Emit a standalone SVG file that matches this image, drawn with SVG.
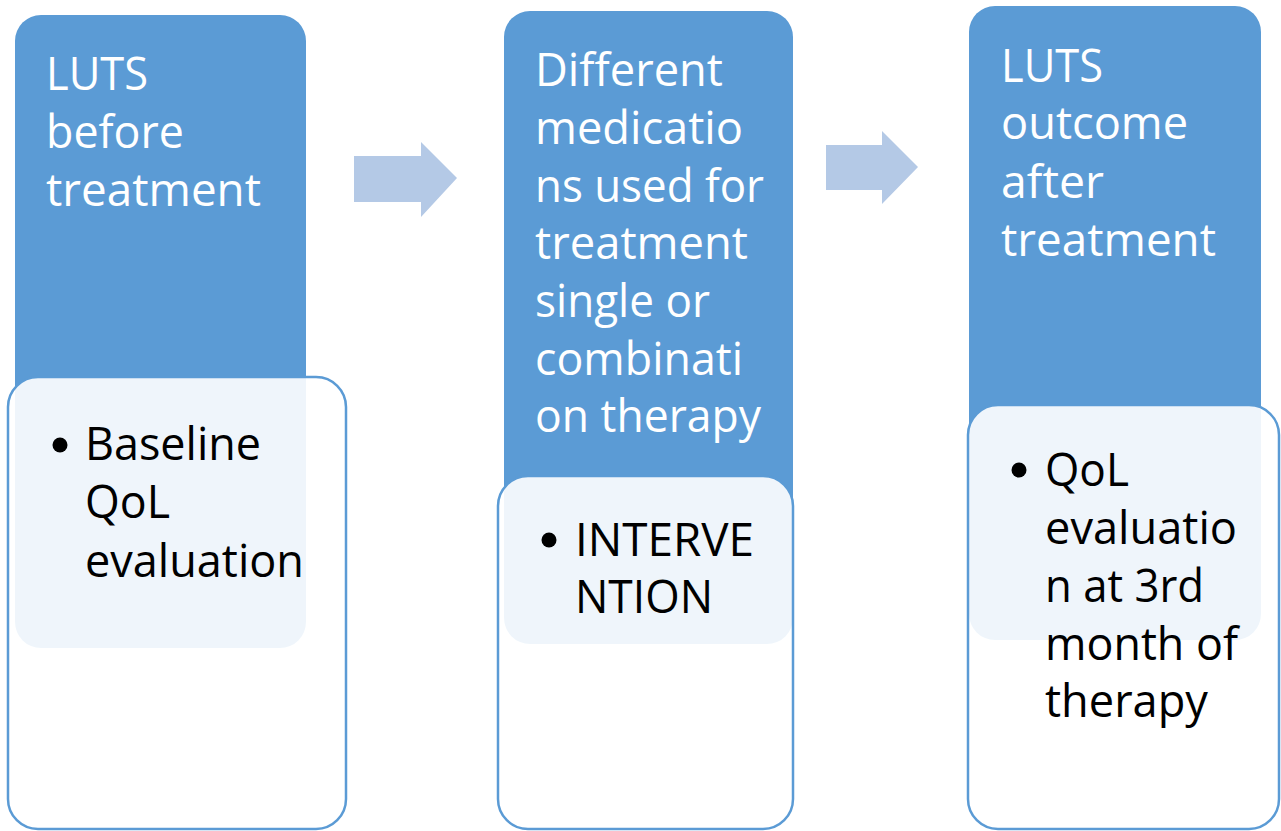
<svg xmlns="http://www.w3.org/2000/svg" width="1281" height="831" viewBox="0 0 1281 831">
<style>
.blue{fill:#5b9bd5}
.card{fill:#ffffff;fill-opacity:0.9;stroke:#5b9bd5;stroke-width:2.5}
.arrow{fill:#b4c9e6}
text{font-family:"Open Sans","Liberation Sans",sans-serif;font-size:45px}
.wt{fill:#ffffff}
.bt{fill:#000000}
.dot{fill:#000000}
</style>
<rect width="1281" height="831" fill="#ffffff"/>
<g id="node-before">
<rect class="blue" x="15" y="15" width="291" height="633" rx="26"/>
<text class="wt" x="46" y="90" textLength="102" lengthAdjust="spacingAndGlyphs">LUTS</text>
<text class="wt" x="46" y="148" textLength="138" lengthAdjust="spacingAndGlyphs">before</text>
<text class="wt" x="46" y="206" textLength="215" lengthAdjust="spacingAndGlyphs">treatment</text>
<rect class="card" x="8" y="377" width="338" height="452" rx="30"/>
<circle class="dot" cx="60" cy="445" r="7.5"/>
<text class="bt" x="85" y="460" textLength="176" lengthAdjust="spacingAndGlyphs">Baseline</text>
<text class="bt" x="85" y="518" textLength="85" lengthAdjust="spacingAndGlyphs">QoL</text>
<text class="bt" x="85" y="577" textLength="219" lengthAdjust="spacingAndGlyphs">evaluation</text>
</g>
<g id="node-intervention">
<rect class="blue" x="504" y="11" width="289" height="633" rx="26"/>
<text class="wt" x="535" y="86" textLength="188" lengthAdjust="spacingAndGlyphs">Different</text>
<text class="wt" x="535" y="144" textLength="208" lengthAdjust="spacingAndGlyphs">medicatio</text>
<text class="wt" x="535" y="202" textLength="229" lengthAdjust="spacingAndGlyphs">ns used for</text>
<text class="wt" x="535" y="259" textLength="213" lengthAdjust="spacingAndGlyphs">treatment</text>
<text class="wt" x="535" y="317" textLength="175" lengthAdjust="spacingAndGlyphs">single or</text>
<text class="wt" x="535" y="375" textLength="208" lengthAdjust="spacingAndGlyphs">combinati</text>
<text class="wt" x="535" y="432" textLength="226" lengthAdjust="spacingAndGlyphs">on therapy</text>
<rect class="card" x="498" y="476" width="295" height="353" rx="30"/>
<circle class="dot" cx="549" cy="540" r="7.5"/>
<text class="bt" x="575" y="556" textLength="179" lengthAdjust="spacingAndGlyphs">INTERVE</text>
<text class="bt" x="575" y="613" textLength="138" lengthAdjust="spacingAndGlyphs">NTION</text>
</g>
<g id="node-after">
<rect class="blue" x="969" y="6" width="292" height="634" rx="26"/>
<text class="wt" x="1001" y="82" textLength="102" lengthAdjust="spacingAndGlyphs">LUTS</text>
<text class="wt" x="1001" y="139" textLength="187" lengthAdjust="spacingAndGlyphs">outcome</text>
<text class="wt" x="1001" y="198" textLength="103" lengthAdjust="spacingAndGlyphs">after</text>
<text class="wt" x="1001" y="256" textLength="215" lengthAdjust="spacingAndGlyphs">treatment</text>
<rect class="card" x="968" y="405" width="311" height="424" rx="30"/>
<circle class="dot" cx="1019" cy="470" r="7.5"/>
<text class="bt" x="1045" y="486" textLength="84" lengthAdjust="spacingAndGlyphs">QoL</text>
<text class="bt" x="1045" y="544" textLength="192" lengthAdjust="spacingAndGlyphs">evaluatio</text>
<text class="bt" x="1045" y="602" textLength="159" lengthAdjust="spacingAndGlyphs">n at 3rd</text>
<text class="bt" x="1045" y="660" textLength="193" lengthAdjust="spacingAndGlyphs">month of</text>
<text class="bt" x="1045" y="717" textLength="163" lengthAdjust="spacingAndGlyphs">therapy</text>
</g>
<g id="connectors">
<polygon class="arrow" points="354,156 421,156 421,142 457,178 421,217 421,202 354,202"/>
<polygon class="arrow" points="826,145 882,145 882,131 918,167 882,204 882,190 826,190"/>
</g>
</svg>
